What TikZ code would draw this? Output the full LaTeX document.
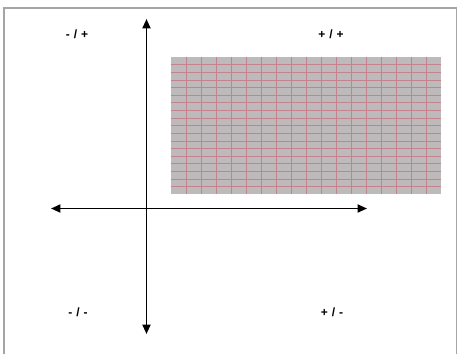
\documentclass[tikz,border=0pt]{standalone}
\usepackage{fontspec}
\setmainfont{Liberation Sans}
\usetikzlibrary{arrows.meta,positioning}

\definecolor{framegray}{RGB}{165,165,165}
\definecolor{cellfill}{RGB}{190,186,188}
\definecolor{cellline}{RGB}{196,130,142}

\begin{document}
\begin{tikzpicture}[
        x=0.75pt, y=-0.75pt,
        quadrant/.style={
            font=\small\bfseries,
            inner sep=1pt
        },
        axis/.style={
            line width=1.3pt,
            {Triangle[length=7pt,width=6pt]}-{Triangle[length=7pt,width=6pt]}
        },
        frame/.style={
            draw=framegray,
            line width=1.3pt
        },
        cellrule/.style={
            draw=cellline,
            line width=0.3pt
        }
    ]

        \useasboundingbox (0,0) rectangle (458,354);

        \draw[frame] (4,380) -- (4,8) -- (456.5,8) -- (456.5,380);

        % shaded area in the first quadrant
        \fill[cellfill] (171,57) rectangle (441,194);
        \foreach \i in {1,...,17}
            \draw[cellrule] (171+15*\i,57) -- (171+15*\i,194);
        \foreach \j in {1,...,17}
            \draw[cellrule] (171,57+137/18*\j) -- (441,57+137/18*\j);

        % axes
        \coordinate (top) at (146.5,19);
        \coordinate (bottom) at (146.5,334);
        \coordinate (left) at (51,208.5);
        \coordinate (right) at (367,208.5);

        \draw[axis] (bottom) -- (top);
        \draw[axis] (left) -- (right);

        \node[quadrant] (mp) at (77,34) {-\,\,/\,\,+};
        \node[quadrant] (pp) at (331,34) {+\,\,/\,\,+};
        \node[quadrant] (mm) at (78,312) {-\,\,/\,\,-};
        \node[quadrant] (pm) at (332,312) {+\,\,/\,\,-};

    \end{tikzpicture}
\end{document}
